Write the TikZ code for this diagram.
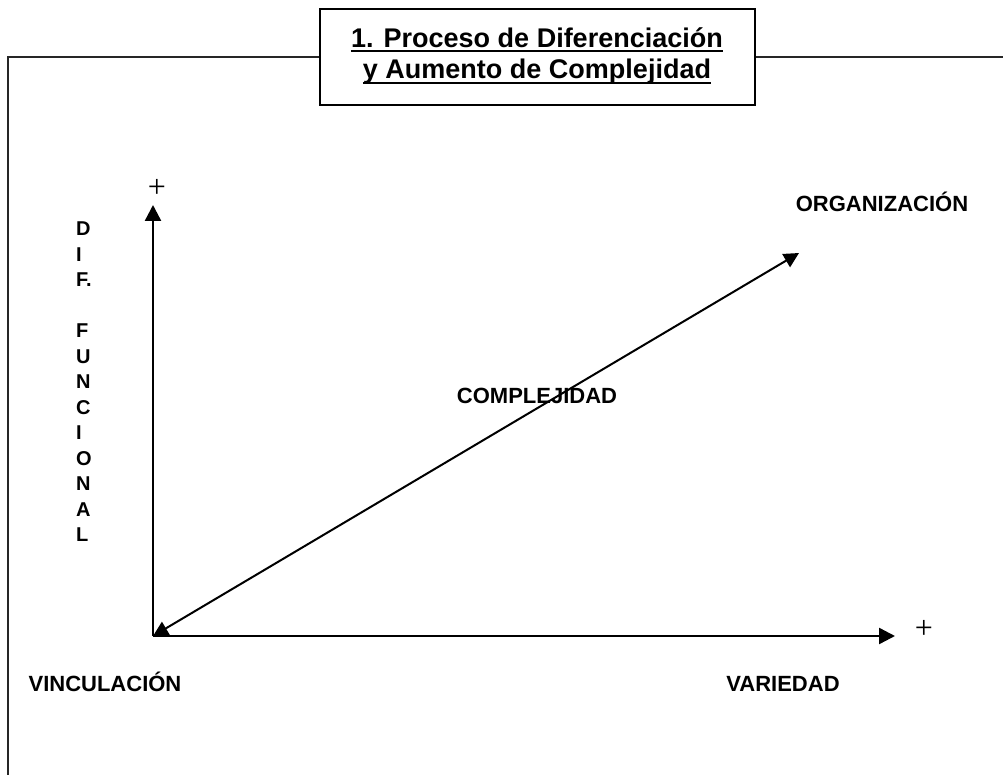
\documentclass[tikz,border=0pt]{standalone}
\usepackage{fontspec}
\setmainfont{Liberation Sans}
\newfontfamily\plusfont{Liberation Serif}
\usetikzlibrary{arrows.meta}
\begin{document}
\begin{tikzpicture}[x=1pt,y=-1pt,
  lbl/.style={font=\bfseries\fontsize{22}{26}\selectfont, inner sep=0pt, anchor=base},
  ttl/.style={font=\bfseries\fontsize{27}{31}\selectfont, inner sep=0pt, anchor=base},
  plussign/.style={font=\plusfont\fontsize{32}{36}\selectfont, inner sep=0pt, anchor=base},
  axisline/.style={line width=2.4pt, -{Triangle[length=16pt,width=16pt]}},
  diagline/.style={line width=2pt, {Triangle[length=15pt,width=15pt]}-{Triangle[length=15pt,width=15pt]}},
  frameline/.style={line width=2pt, draw=black!85},
  ulinestyle/.style={line width=2pt}
]
\useasboundingbox (0,0) rectangle (1003,775);
\fill[white] (0,0) rectangle (1003,775);
% outer frame
\coordinate (fr) at (1010,57.5);
\coordinate (fc) at (8,57.5);
\coordinate (fb) at (8,785);
\draw[frameline] (fr) -- (fc) -- (fb);
% title box
\node[draw, line width=2pt, fill=white, minimum width=435pt, minimum height=96pt, inner sep=0pt] (titlebox) at (537.5,57.5) {};
\node[ttl] (t1) at (537,47.5) {1. Proceso de Diferenciación};
\node[ttl] (t2) at (537,79) {y Aumento de Complejidad};
\draw[ulinestyle] ([yshift=-4pt]t1.base west) -- ([yshift=-4pt]t1.base east);
\draw[ulinestyle] ([yshift=-4.5pt]t2.base west) -- ([yshift=-4.5pt]t2.base east);
% axes
\coordinate (O) at (153,636);
\coordinate (ytip) at (153,205);
\coordinate (xtip) at (895,636);
\coordinate (dtip) at (799,253);
\draw[axisline] (O) -- (ytip);
\draw[axisline] (O) -- (xtip);
\draw[diagline] (O) -- (dtip);
% plus signs
\node[plussign] (py) at (157,197.7) {+};
\node[plussign] (px) at (924,638.2) {+};
% labels
\node[lbl] (org) at (882,212) {ORGANIZACIÓN};
\node[lbl] (comp) at (537,403) {COMPLEJIDAD};
\node[lbl] (vinc) at (105,691) {VINCULACIÓN};
\node[lbl] (var) at (783,691) {VARIEDAD};
\node[font=\bfseries\fontsize{20}{25.5}\selectfont, align=left, inner sep=0pt, anchor=north west] (dif) at (76,222)
  {D\\I\\F.\\[25.5pt]F\\U\\N\\C\\I\\O\\N\\A\\L};
\end{tikzpicture}
\end{document}
